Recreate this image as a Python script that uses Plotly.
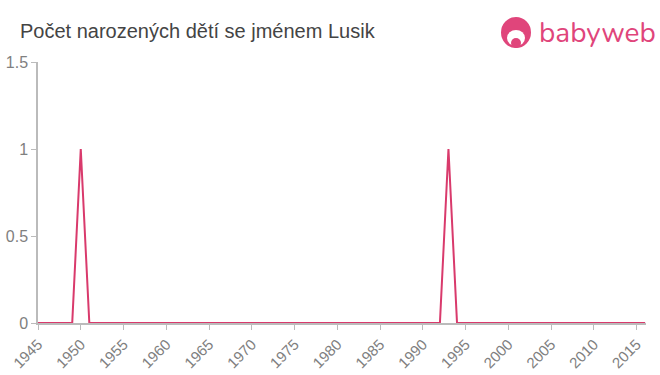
import plotly.graph_objects as go

years = list(range(1945, 2017))
peaks = {1950: 1, 1993: 1}
counts = [peaks.get(y, 0) for y in years]

x_ticks = list(range(1945, 2016, 5))
y_ticks = [0, 0.5, 1, 1.5]
y_labels = ["0", "0.5", "1", "1.5"]

title = "Počet narozených dětí se jménem Lusik"
line_color = "#d93a6c"
axis_color = "#bbbbbb"
tick_color = "#808080"

fig = go.Figure()
fig.add_trace(go.Scatter(x=years, y=counts, mode="lines",
                         line=dict(color=line_color, width=2), hoverinfo="x+y"))

fig.update_layout(
    width=660, height=375,
    margin=dict(l=38, r=14, t=62, b=52),
    paper_bgcolor="white", plot_bgcolor="white",
    showlegend=False,
    font=dict(family="Liberation Sans, Arial, sans-serif", color=tick_color, size=15),
    title=dict(text=title, x=20/660, xanchor="left", y=1-31/375, yanchor="middle",
               font=dict(size=20, color="#444444")),
)
fig.update_xaxes(range=[1945, 2016.1], tickvals=x_ticks, ticktext=[str(v) for v in x_ticks],
                 tickangle=-45, showgrid=False, zeroline=False, showline=True,
                 linecolor=axis_color, linewidth=1.5, ticks="outside", ticklen=5,
                 tickcolor=axis_color, tickfont=dict(size=15, color=tick_color),
                 automargin=False)
fig.update_yaxes(range=[0, 1.5], tickvals=y_ticks, ticktext=y_labels,
                 showgrid=False, zeroline=False, showline=True,
                 linecolor=axis_color, linewidth=1.5, ticks="outside", ticklen=5,
                 tickcolor=axis_color, tickfont=dict(size=16, color=tick_color),
                 automargin=False)

# babyweb logo
logo = "#e0457b"
fig.add_shape(type="circle", xref="paper", yref="paper",
              x0=(501-38)/608, x1=(531-38)/608, y0=(323-48)/261, y1=(323-17)/261,
              fillcolor=logo, line_width=0, layer="above")
fig.add_shape(type="circle", xref="paper", yref="paper",
              x0=(507-38)/608, x1=(525-38)/608, y0=(323-46)/261, y1=(323-30)/261,
              fillcolor="white", line_width=0, layer="above")
fig.add_shape(type="circle", xref="paper", yref="paper",
              x0=(511-38)/608, x1=(521-38)/608, y0=(323-48)/261, y1=(323-38)/261,
              fillcolor=logo, line_width=0, layer="above")
fig.add_annotation(text="babyweb", xref="paper", yref="paper",
                   x=(537-38)/608, y=(323-33)/261, xanchor="left", yanchor="middle",
                   showarrow=False, font=dict(size=28, color=logo,
                                              family="Nunito, Lato, sans-serif"))

fig.write_html("out.html")
